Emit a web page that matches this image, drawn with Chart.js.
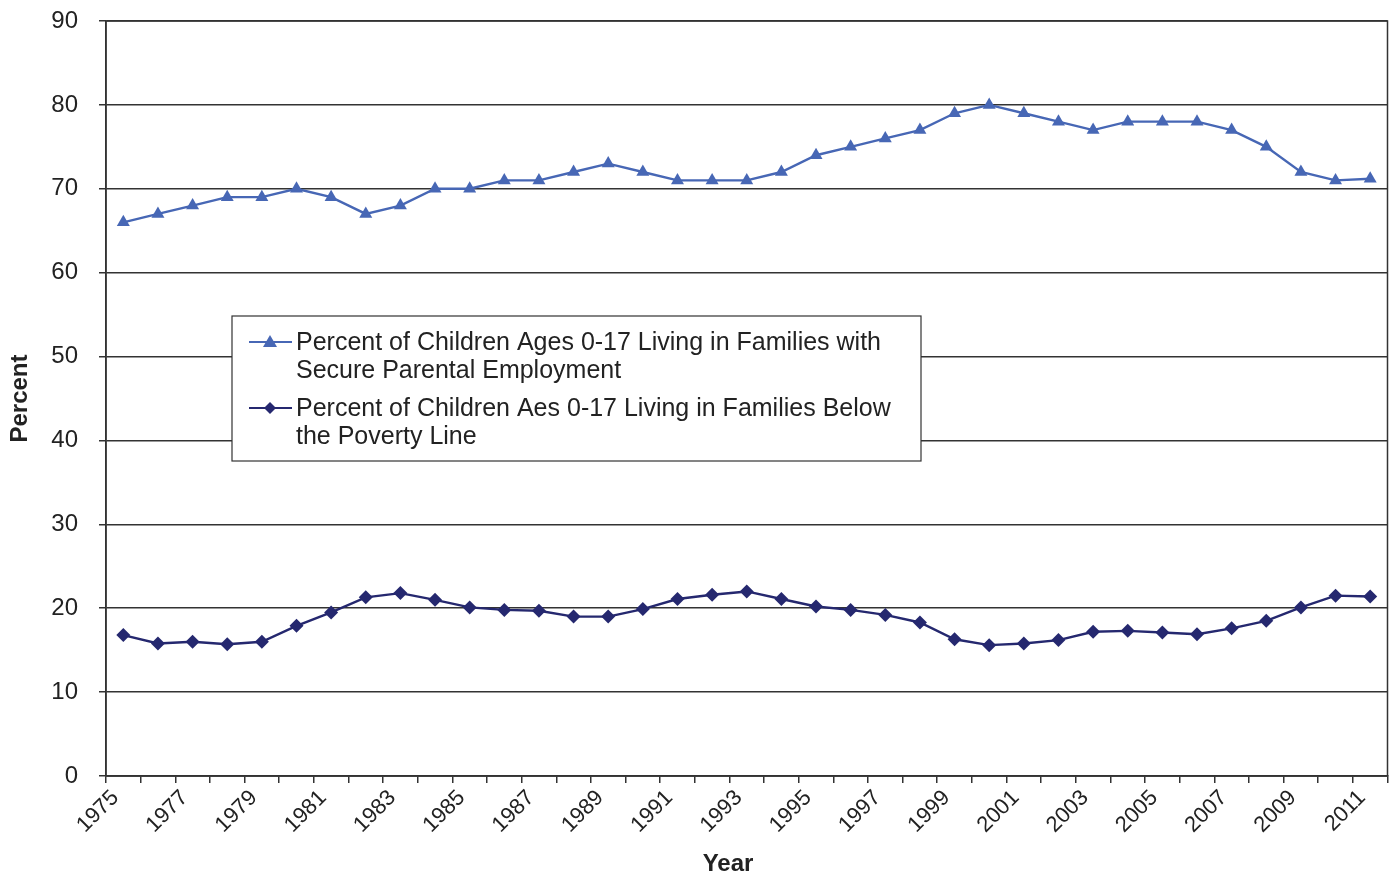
<!DOCTYPE html>
<html><head><meta charset="utf-8">
<script src="https://cdn.jsdelivr.net/npm/chart.js@4.4.0/dist/chart.umd.min.js"></script>
<style>html,body{margin:0;padding:0;background:#fff}#wrap{width:1395px;height:877px}</style>
</head><body><div id="wrap"><canvas id="c" width="1395" height="877"></canvas></div>
<script>
const years = ["1975","1976","1977","1978","1979","1980","1981","1982","1983","1984","1985","1986","1987","1988","1989","1990","1991","1992","1993","1994","1995","1996","1997","1998","1999","2000","2001","2002","2003","2004","2005","2006","2007","2008","2009","2010","2011"];
const secureEmployment = [66,67,68,69,69,70,69,67,68,70,70,71,71,72,73,72,71,71,71,72,74,75,76,77,79,80,79,78,77,78,78,78,77,75,72,71,71.2];
const belowPoverty = [16.8,15.8,16.0,15.7,16.0,17.9,19.5,21.3,21.8,21.0,20.1,19.8,19.7,19.0,19.0,19.9,21.1,21.6,22.0,21.1,20.2,19.8,19.2,18.3,16.3,15.6,15.8,16.2,17.2,17.3,17.1,16.9,17.6,18.5,20.1,21.5,21.4];
const yTicks = [0,10,20,30,40,50,60,70,80,90];
const legendLabels = [
  ["Percent of Children Ages 0-17 Living in Families with","Secure Parental Employment"],
  ["Percent of Children Aes 0-17 Living in Families Below","the Poverty Line"]
];
const xTitle = "Year";
const FONT = "'Liberation Sans', Arial, sans-serif";
const C1 = "#4767b5", C2 = "#25286f", GRID = "#333333";

const framePlugin = {
  id: 'frame',
  afterDraw(chart) {
    const {ctx, chartArea: a} = chart;
    ctx.save();
    ctx.strokeStyle = GRID; ctx.lineWidth = 1.5;
    ctx.strokeRect(a.left, a.top, a.right - a.left, a.bottom - a.top);
    // x title
    ctx.font = "bold 24px " + FONT; ctx.fillStyle = '#222';
    ctx.textAlign = 'center'; ctx.textBaseline = 'middle';
    ctx.fillText(xTitle, 728, 864);
    ctx.textAlign = 'left';
    // legend box
    const bx = 232, by = 316, bw = 689, bh = 145;
    ctx.fillStyle = '#fff'; ctx.fillRect(bx, by, bw, bh);
    ctx.strokeStyle = '#333'; ctx.lineWidth = 1.2; ctx.strokeRect(bx, by, bw, bh);
    ctx.font = "25px " + FONT; ctx.textBaseline = 'middle';
    const rows = [[342, 370], [408, 436]];
    chart.data.datasets.forEach((ds, i) => {
      const y = rows[i][0];
      ctx.strokeStyle = ds.borderColor; ctx.lineWidth = 2;
      ctx.beginPath(); ctx.moveTo(249, y); ctx.lineTo(292, y); ctx.stroke();
      ctx.fillStyle = ds.borderColor;
      ctx.beginPath();
      if (ds.pointStyle === 'triangle') {
        ctx.moveTo(270, y - 7); ctx.lineTo(277, y + 5); ctx.lineTo(263, y + 5);
      } else {
        ctx.moveTo(270, y - 6); ctx.lineTo(276, y); ctx.lineTo(270, y + 6); ctx.lineTo(264, y);
      }
      ctx.closePath(); ctx.fill();
      ctx.fillStyle = '#222';
      legendLabels[i].forEach((t, j) => ctx.fillText(t, 296, rows[i][j] + 1));
    });
    ctx.restore();
  }
};

new Chart(document.getElementById('c'), {
  type: 'line',
  data: {
    labels: years,
    datasets: [
      {label: legendLabels[0].join(' '), data: secureEmployment, borderColor: C1, backgroundColor: C1,
       borderWidth: 2.4, pointStyle: 'triangle', pointRadius: 7.5, pointBorderWidth: 0, pointBackgroundColor: C1, tension: 0},
      {label: legendLabels[1].join(' '), data: belowPoverty, borderColor: C2, backgroundColor: C2,
       borderWidth: 2.4, pointStyle: 'rectRot', pointRadius: 7, pointBorderWidth: 0, pointBackgroundColor: C2, tension: 0}
    ]
  },
  options: {
    responsive: false, animation: false,
    layout: {padding: {top: 21, right: 2, left: 0, bottom: 0}},
    plugins: {legend: {display: false}, tooltip: {enabled: false}},
    scales: {
      x: {
        type: 'category', offset: true,
        grid: {offset: true, drawOnChartArea: false, color: GRID, lineWidth: 1.5, tickLength: 7, tickColor: GRID},
        border: {color: GRID, width: 1.5},
        ticks: {autoSkip: false, maxRotation: 45, minRotation: 45, color: '#222', padding: 2, labelOffset: -8,
                font: {family: FONT, size: 22},
                callback: (v, i) => (i % 2 === 0 ? years[i] : '')},
        title: {display: false},
        afterFit: s => { s.height = 101; s.paddingLeft = 0; s.paddingRight = 0; }
      },
      y: {
        min: 0, max: 90,
        afterBuildTicks: s => { s.ticks = yTicks.map(v => ({value: v})); },
        grid: {color: GRID, lineWidth: 1.5, tickLength: 7, tickColor: GRID},
        border: {color: GRID, width: 1.5},
        ticks: {color: '#222', padding: 21, font: {family: FONT, size: 24}},
        title: {display: true, text: 'Percent', color: '#222', font: {family: FONT, size: 24, weight: 'bold'}, padding: {top: 6, bottom: 0}},
        afterFit: s => { s.width = 106; s.paddingTop = 0; s.paddingBottom = 0; }
      }
    }
  },
  plugins: [framePlugin]
});
</script></body></html>
